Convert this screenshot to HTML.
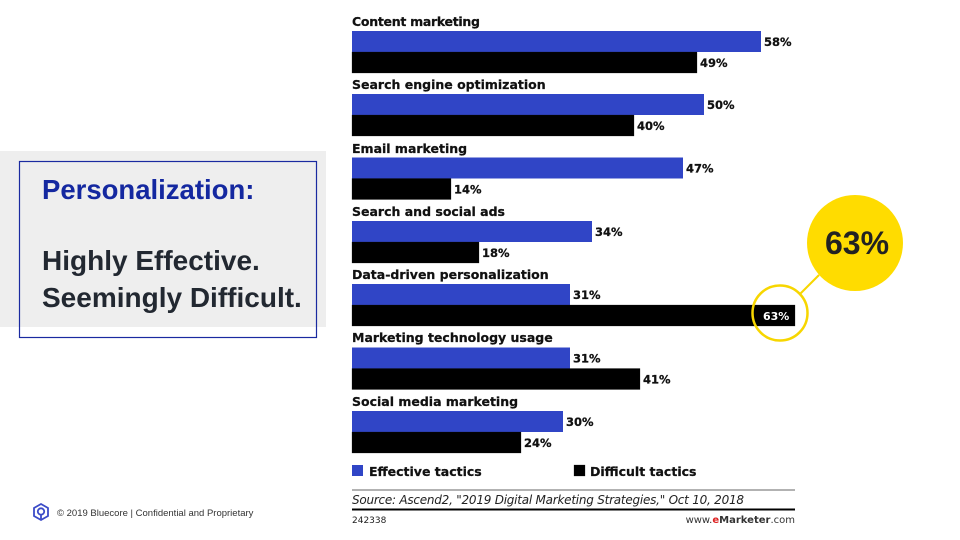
<!DOCTYPE html>
<html><head><meta charset="utf-8"><style>
html,body{margin:0;padding:0;background:#fff;}
svg{display:block;}
</style></head><body>
<svg width="960" height="540" viewBox="0 0 960 540" xmlns="http://www.w3.org/2000/svg">
<rect x="0" y="151" width="326" height="176" fill="#eeeeee"/>
<rect x="19.5" y="161.5" width="297" height="176" fill="none" stroke="#1a2aa0" stroke-width="1.2"/>
<text x="42" y="199" font-family="Liberation Sans, sans-serif" font-weight="bold" font-size="27.5" fill="#1428a0">Personalization:</text>
<text x="42" y="270" font-family="Liberation Sans, sans-serif" font-weight="bold" font-size="28" fill="#222831">Highly Effective.</text>
<text x="42" y="307" font-family="Liberation Sans, sans-serif" font-weight="bold" font-size="28" fill="#222831">Seemingly Difficult.</text>

<g font-family="DejaVu Sans, sans-serif" font-weight="bold" fill="#111" stroke="#111" stroke-width="0.25">
<!-- group 0 -->
<text x="352" y="26" font-size="12.5" textLength="128">Content marketing</text>
<rect x="352" y="31" width="409" height="21" fill="#3045c6" stroke="none"/>
<rect x="352" y="52" width="345" height="21" fill="#000"/>
<text x="764" y="46" font-size="11.5">58%</text>
<text x="700" y="67" font-size="11.5">49%</text>
<!-- group 1 -->
<text x="352" y="89" font-size="12.5">Search engine optimization</text>
<rect x="352" y="94" width="352" height="21" fill="#3045c6" stroke="none"/>
<rect x="352" y="115" width="282" height="21" fill="#000"/>
<text x="707" y="109" font-size="11.5">50%</text>
<text x="637" y="130" font-size="11.5">40%</text>
<!-- group 2 -->
<text x="352" y="153" font-size="12.5">Email marketing</text>
<rect x="352" y="157.5" width="331" height="21" fill="#3045c6" stroke="none"/>
<rect x="352" y="178.5" width="99" height="21" fill="#000"/>
<text x="686" y="172.5" font-size="11.5">47%</text>
<text x="454" y="193.5" font-size="11.5">14%</text>
<!-- group 3 -->
<text x="352" y="216" font-size="12.5">Search and social ads</text>
<rect x="352" y="221" width="240" height="21" fill="#3045c6" stroke="none"/>
<rect x="352" y="242" width="127" height="21" fill="#000"/>
<text x="595" y="236" font-size="11.5">34%</text>
<text x="482" y="257" font-size="11.5">18%</text>
<!-- group 4 -->
<text x="352" y="279" font-size="12.5">Data-driven personalization</text>
<rect x="352" y="284" width="218" height="21" fill="#3045c6" stroke="none"/>
<rect x="352" y="305" width="443" height="21" fill="#000"/>
<text x="573" y="299" font-size="11.5">31%</text>
<text x="763" y="320" font-size="11" fill="#fff" stroke="none">63%</text>
<!-- group 5 -->
<text x="352" y="342" font-size="12.5">Marketing technology usage</text>
<rect x="352" y="347.5" width="218" height="21" fill="#3045c6" stroke="none"/>
<rect x="352" y="368.5" width="288" height="21" fill="#000"/>
<text x="573" y="362.5" font-size="11.5">31%</text>
<text x="643" y="383.5" font-size="11.5">41%</text>
<!-- group 6 -->
<text x="352" y="406" font-size="12.5">Social media marketing</text>
<rect x="352" y="411" width="211" height="21" fill="#3045c6" stroke="none"/>
<rect x="352" y="432" width="169" height="21" fill="#000"/>
<text x="566" y="426" font-size="11.5">30%</text>
<text x="524" y="447" font-size="11.5">24%</text>
<!-- legend -->
<rect x="352" y="465" width="11" height="11" fill="#3045c6" stroke="none"/>
<text x="369" y="476" font-size="12.5">Effective tactics</text>
<rect x="574" y="465" width="11" height="11" fill="#000"/>
<text x="590" y="476" font-size="12.5">Difficult tactics</text>
</g>
<line x1="352" y1="490" x2="795" y2="490" stroke="#333" stroke-width="0.8"/>
<text x="352" y="504" font-family="DejaVu Sans, sans-serif" font-style="italic" font-size="12" fill="#222" textLength="392">Source: Ascend2, "2019 Digital Marketing Strategies," Oct 10, 2018</text>
<line x1="352" y1="509.5" x2="795" y2="509.5" stroke="#000" stroke-width="2"/>
<text x="352" y="523" font-family="DejaVu Sans, sans-serif" font-size="9" fill="#222">242338</text>
<text x="795" y="523" text-anchor="end" font-family="DejaVu Sans, sans-serif" font-size="10" fill="#333">www.<tspan fill="#d22" font-weight="bold">e</tspan><tspan font-weight="bold">Marketer</tspan>.com</text>

<!-- callout -->
<circle cx="780" cy="313" r="27.5" fill="none" stroke="#f7d600" stroke-width="2.5"/>
<line x1="800" y1="294" x2="819" y2="275" stroke="#f7d600" stroke-width="2"/>
<circle cx="855" cy="243" r="48" fill="#ffdc00"/>
<text x="857" y="254" text-anchor="middle" font-family="Liberation Sans, sans-serif" font-weight="bold" font-size="32" fill="#222">63%</text>

<!-- footer -->
<g transform="translate(41,512)" fill="none" stroke="#3b4bc8" stroke-width="1.8">
<polygon points="0,-8 7,-4 7,4 0,8 -7,4 -7,-4"/>
<circle cx="0" cy="-0.5" r="3.2"/>
<line x1="0" y1="2.7" x2="0" y2="7"/>
</g>
<text x="57" y="516" font-family="Liberation Sans, sans-serif" font-size="9.5" fill="#333">© 2019 Bluecore | Confidential and Proprietary</text>
</svg>
</body></html>
